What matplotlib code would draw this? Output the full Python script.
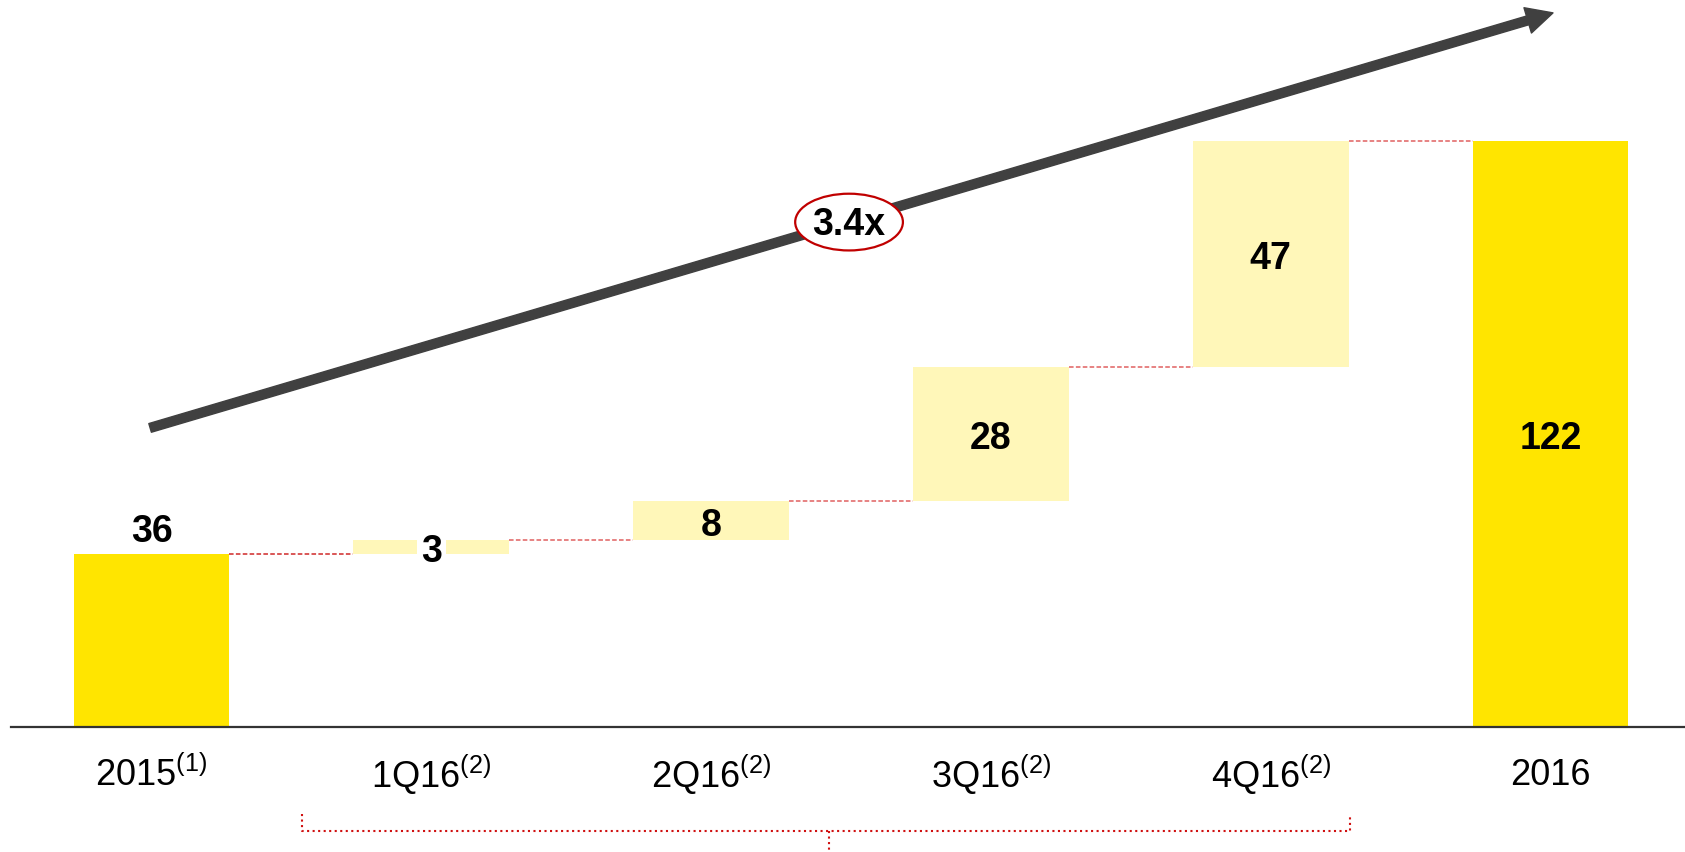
import numpy as np
import matplotlib
matplotlib.use("Agg")
import matplotlib.pyplot as plt
from matplotlib.patches import Ellipse

plt.rcParams['font.family'] = ['Liberation Sans', 'DejaVu Sans']
plt.rcParams['mathtext.fontset'] = 'custom'
plt.rcParams['mathtext.rm'] = 'Liberation Sans'

# waterfall data
categories = ['2015', '1Q16', '2Q16', '3Q16', '4Q16', '2016']
footnotes = ['(1)', '(2)', '(2)', '(2)', '(2)', '']
start_total = 36
increments = [3, 8, 28, 47]
end_total = 122
growth_label = '3.4x'

TOTAL_COLOR = '#FFE500'
STEP_COLOR = '#FFF7B9'
LINK_COLOR = '#E06060'
BRACKET_COLOR = '#D01010'

fig = plt.figure(figsize=(16.85, 8.52), dpi=100)
ax = fig.add_axes([0, 0, 1, 1])
ax.set_xlim(-0.5415, 5.4807)
ax.set_ylim(-25.89, 151.28)
ax.axis('off')

x = np.arange(len(categories))
width = 0.557
dy = -1.1  # nudge so digits sit optically centred

bottoms = [0] + list(start_total + np.cumsum([0] + increments[:-1])) + [0]
heights = [start_total] + increments + [end_total]
colors = [TOTAL_COLOR] + [STEP_COLOR] * len(increments) + [TOTAL_COLOR]
ax.bar(x, heights, width=width, bottom=bottoms, color=colors, zorder=2)

# dashed connectors between bar tops
tops = [b + h for b, h in zip(bottoms, heights)]
for i in range(len(x) - 1):
    c = '#D02828' if i == 0 else LINK_COLOR
    ax.plot([x[i] + width / 2, x[i + 1] - width / 2], [tops[i], tops[i]],
            color=c, lw=1.1, ls=(0, (3, 1.5)), zorder=1)

# value labels
ax.text(x[0], start_total + 1, str(start_total), ha='center', va='bottom',
        fontsize=27, fontweight='bold', zorder=4)
for i, v in enumerate(increments, start=1):
    mid = bottoms[i] + v / 2 + dy
    box = dict(facecolor='white', edgecolor='none', pad=3) if v < 5 else None
    ax.text(x[i], mid, str(v), ha='center', va='center', fontsize=27,
            fontweight='bold', bbox=box, zorder=4)
ax.text(x[-1], end_total / 2 + dy, str(end_total), ha='center', va='center',
        fontsize=27, fontweight='bold', zorder=4)

# baseline
ax.axhline(0, xmin=0.0065, xmax=1, color='#333333', lw=1.6, zorder=3)

# category labels with footnote superscripts
for xi, cat, fn in zip(x, categories, footnotes):
    label = cat + (r'$^{\mathregular{' + fn + '}}$' if fn else '')
    ax.text(xi, -9.9, label, ha='center', va='center', fontsize=26)

# bracket under the quarterly bars
bl, br, bc = 0.5379, 4.2832, 2.4228
ax.plot([bl, bl, br, br], [-17.9, -21.5, -21.5, -17.9], color=BRACKET_COLOR,
        lw=1.5, ls=':', clip_on=False)
ax.plot([bc, bc], [-21.5, -25.9], color=BRACKET_COLOR, lw=1.5, ls=':',
        clip_on=False)

# growth arrow
ax.annotate('', xy=(5.009, 148.6), xytext=(-0.005, 62.3),
            arrowprops=dict(width=6.5, headwidth=19, headlength=19,
                            color='#404040', shrink=0), zorder=5)
ax.add_patch(Ellipse((2.493, 105.1), 0.385, 11.8, facecolor='white',
                     edgecolor='#C00000', lw=1.6, zorder=6))
ax.text(2.493, 105.1 + dy * 0.5, growth_label, ha='center', va='center',
        fontsize=27, fontweight='bold', zorder=7)

fig.savefig('out.png', dpi=100)
